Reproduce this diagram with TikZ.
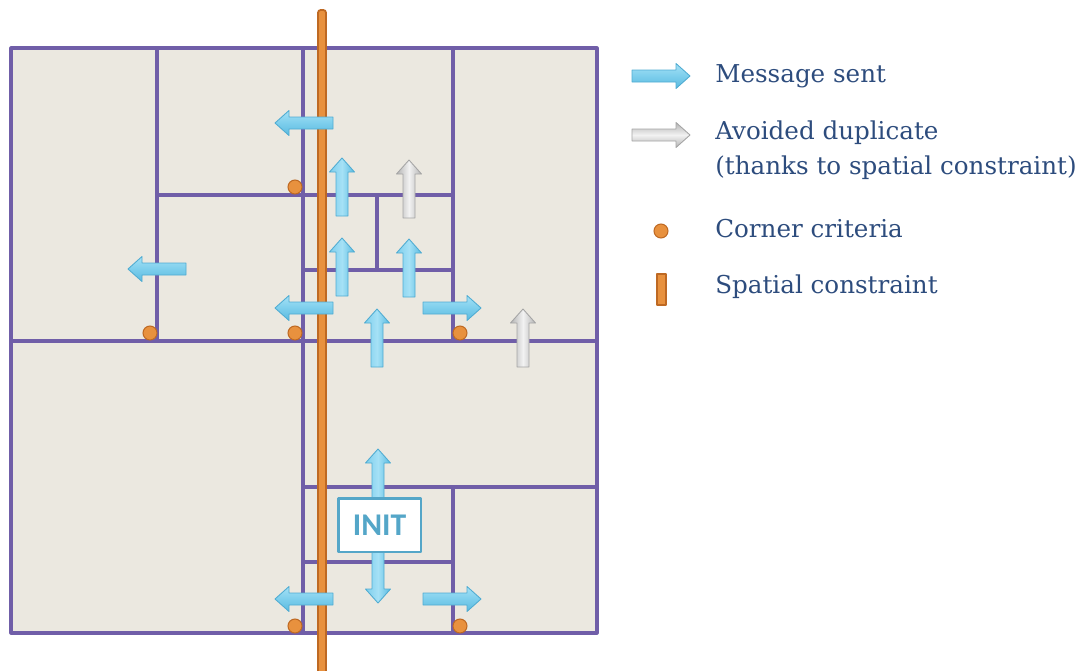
\documentclass[tikz,border=0pt]{standalone}
\usepackage{fontspec}
\setmainfont{DejaVu Serif}
\newfontfamily\initfont{Carlito}
\usepackage{tikz}
\usetikzlibrary{positioning}

\definecolor{gridline}{RGB}{112,94,168}
\definecolor{cellfill}{RGB}{235,232,224}
\definecolor{msglight}{RGB}{165,225,246}
\definecolor{msgfill}{RGB}{125,206,236}
\definecolor{msgdark}{RGB}{90,186,224}
\definecolor{msgedge}{RGB}{80,172,210}
\definecolor{duplight}{RGB}{242,242,242}
\definecolor{dupfill}{RGB}{180,180,180}
\definecolor{dupedge}{RGB}{165,165,165}
\definecolor{cornerfill}{RGB}{232,145,62}
\definecolor{corneredge}{RGB}{190,105,35}
\definecolor{legendtext}{RGB}{45,76,125}
\definecolor{initblue}{RGB}{84,166,200}

\tikzset{
  grid/.style={draw=gridline,line width=1.8pt},
  senth/.style={top color=msglight,bottom color=msgdark,middle color=msgfill,draw=msgedge,line width=0.5pt},
  sentv/.style={left color=msgfill,right color=msgdark,middle color=msglight,draw=msgedge,line width=0.5pt},
  dupv/.style={left color=dupfill,right color=dupfill,middle color=duplight,draw=dupedge,line width=0.5pt},
  duph/.style={top color=dupfill,bottom color=dupfill,middle color=duplight,draw=dupedge,line width=0.5pt},
  corner/.style={fill=cornerfill,draw=corneredge,line width=0.6pt},
  constraint/.style={fill=cornerfill,draw=corneredge,line width=1pt},
  legend/.style={anchor=west,text=legendtext,font=\fontsize{14}{19.8}\selectfont,align=left,inner sep=0pt},
  initbox/.style={draw=initblue,fill=white,line width=1.7pt,minimum width=1.66cm,minimum height=1.08cm,
    text=initblue,font=\initfont\bfseries\fontsize{18}{18}\selectfont},
  pics/block/.style={code={\path[#1](0,-6)--(44,-6)--(44,-12.5)--(58,0)--(44,12.5)--(44,6)--(0,6)--cycle;}}
}

\begin{document}
\begin{tikzpicture}[x=0.02cm,y=-0.02cm,line join=round]
\useasboundingbox (0,0) rectangle (1089,670);

% cells
\filldraw[grid,fill=cellfill](11,48) rectangle (597,633);
\draw[grid](157,48)--(157,341);
\draw[grid](303,48)--(303,633);
\draw[grid](453,48)--(453,341);
\draw[grid](453,487)--(453,633);
\draw[grid](377,195)--(377,270);
\draw[grid](11,341)--(597,341);
\draw[grid](157,195)--(453,195);
\draw[grid](303,270)--(453,270);
\draw[grid](303,487)--(597,487);
\draw[grid](303,562)--(453,562);

% spatial constraint
\filldraw[constraint,rounded corners=1.5pt](318,672)--(318,10)--(326,10)--(326,672);

% corner criteria
\foreach \cx/\cy in {295/187,150/333,295/333,460/333,295/626,460/626}
  \filldraw[corner](\cx,\cy) circle (7);

% messages
\pic[rotate=180] at (333,123) {block=senth};
\pic[rotate=180] at (186,269) {block=senth};
\pic[rotate=180] at (333,308) {block=senth};
\pic[rotate=180] at (333,599) {block=senth};
\pic at (423,308) {block=senth};
\pic at (423,599) {block=senth};
\pic[rotate=90] at (342,216) {block=sentv};
\pic[rotate=90] at (342,296) {block=sentv};
\pic[rotate=90] at (409,297) {block=sentv};
\pic[rotate=90] at (377,367) {block=sentv};
\pic[rotate=90] at (409,218) {block=dupv};
\pic[rotate=90] at (523,367) {block=dupv};

% init
\path[sentv](372,463)--(365.5,463)--(378,449)--(390.5,463)--(384,463)--(384,589)--(390.5,589)--(378,603)--(365.5,589)--(372,589)--cycle;
\node[initbox] (init) at (379.5,525) {INIT};

% legend
\pic at (632,76) {block=senth};
\pic at (632,135) {block=duph};
\filldraw[corner](661,231) circle (7);
\filldraw[constraint](657,274) rectangle (666,305);

\node[legend] (lsent) at (715,76) {Message sent};
\node[legend] (ldup) at (715,150) {Avoided duplicate\\(thanks to spatial constraint)};
\node[legend] (lcorner) at (715,229) {Corner criteria};
\node[legend] (lconstr) at (715,287) {Spatial constraint};
\end{tikzpicture}
\end{document}
